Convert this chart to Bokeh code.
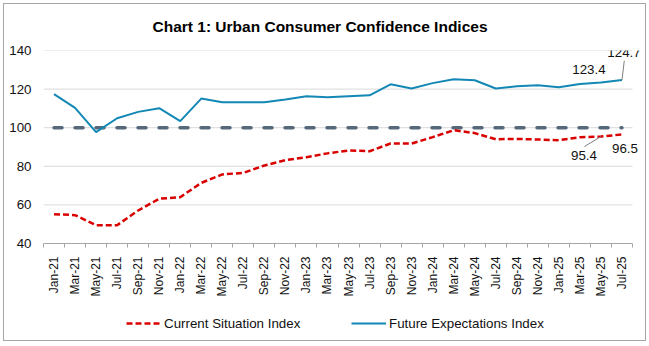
import numpy as np
from bokeh.plotting import figure
from bokeh.layouts import column
from bokeh.models import FixedTicker, Legend, LegendItem, Label, Range1d
from bokeh.embed import file_html
from bokeh.resources import INLINE

# ---------------- data ----------------
months = ["Jan-21", "Mar-21", "May-21", "Jul-21", "Sep-21", "Nov-21",
          "Jan-22", "Mar-22", "May-22", "Jul-22", "Sep-22", "Nov-22",
          "Jan-23", "Mar-23", "May-23", "Jul-23", "Sep-23", "Nov-23",
          "Jan-24", "Mar-24", "May-24", "Jul-24", "Sep-24", "Nov-24",
          "Jan-25", "Mar-25", "May-25", "Jul-25"]
current_situation = [55.2, 54.7, 49.5, 49.5, 57.1, 63.2, 64.0, 71.4, 75.8, 76.6,
                     80.4, 83.2, 84.7, 86.7, 88.2, 87.8, 91.8, 91.8, 95.1, 98.7,
                     97.2, 94.0, 94.2, 93.9, 93.5, 95.1, 95.4, 96.5]
future_expectations = [117.4, 110.3, 97.7, 104.9, 108.2, 110.1, 103.4, 115.1, 113.2, 113.2,
                       113.2, 114.6, 116.3, 115.8, 116.3, 116.8, 122.5, 120.3, 123.1, 125.1,
                       124.6, 120.3, 121.5, 122.0, 121.0, 122.7, 123.4, 124.7]
neutral_level = 100
y_ticks = [40, 60, 80, 100, 120, 140]
title_text = "Chart 1: Urban Consumer Confidence Indices"
series_names = ["Current Situation Index", "Future Expectations Index"]

# ---------------- style ----------------
FONT = "Liberation Sans"
BLUE = "#1388b5"
RED = "#d90000"
NEUTRAL = "#56697a"
TXT = "#111111"
GRID = "#d9d9d9"
AXIS = "#a6a6a6"
PX_X = 589 / 28.0   # pixels per category
PX_Y = 193 / 100.0  # pixels per index point
X_PAD = 9 / PX_X    # room on the right for the end labels
RED_STYLE = dict(line_color=RED, line_width=2.5, line_dash="6 3")
BLUE_STYLE = dict(line_color=BLUE, line_width=2)

n = len(months)
x = list(range(n))
x_lo, x_hi = -0.5, n - 0.5

p = figure(width=641, height=296, output_backend="svg", toolbar_location=None,
           x_range=Range1d(x_lo, x_hi + X_PAD), y_range=Range1d(y_ticks[0], y_ticks[-1]),
           min_border_left=39, min_border_right=4, min_border_top=46,
           min_border_bottom=57, title=title_text)
p.outline_line_color = None
p.background_fill_color = "white"
p.border_fill_color = "white"

p.title.text_font = FONT
p.title.text_font_size = "15.5px"
p.title.text_font_style = "bold"
p.title.text_color = "#000000"
p.title.align = "left"
p.title.offset = 109
p.title.vertical_align = "top"
p.title.standoff = 27

# horizontal gridlines (only across the category area)
p.segment(x0=[x_lo] * len(y_ticks), y0=y_ticks, x1=[x_hi] * len(y_ticks), y1=y_ticks,
          line_color=GRID, line_width=1)

# reference (neutral) line
p.line(x, [neutral_level] * n, line_color=NEUTRAL, line_width=3.5,
       line_dash="8 13", line_cap="round")
p.line(x, current_situation, **RED_STYLE)
p.line(x, future_expectations, **BLUE_STYLE)

# axes
p.xaxis.ticker = FixedTicker(ticks=x, minor_ticks=[i - 0.5 for i in range(n + 1)])
p.xaxis.bounds = (x_lo, x_hi)
p.xaxis.major_label_overrides = {i: m for i, m in enumerate(months)}
p.xaxis.major_label_orientation = np.pi / 2
p.xaxis.major_tick_line_color = None
p.xaxis.major_tick_out = 0
p.xaxis.major_tick_in = 0
p.xaxis.minor_tick_out = 4
p.xaxis.minor_tick_in = 0
p.xaxis.minor_tick_line_color = AXIS
p.xaxis.axis_line_color = AXIS
p.xaxis.major_label_standoff = 9
p.xaxis.major_label_text_font = FONT
p.xaxis.major_label_text_font_size = "12px"
p.xaxis.major_label_text_color = TXT
p.xgrid.visible = False
p.ygrid.visible = False

p.yaxis.ticker = FixedTicker(ticks=y_ticks)
p.yaxis.axis_line_color = None
p.yaxis.major_tick_line_color = None
p.yaxis.minor_tick_line_color = None
p.yaxis.major_tick_out = 0
p.yaxis.major_label_standoff = 12
p.yaxis.major_label_text_font = FONT
p.yaxis.major_label_text_font_size = "13.33px"
p.yaxis.major_label_text_color = TXT

# data labels
labels = [
    (future_expectations, 26, -12, 13),
    (future_expectations, 27, 2, 28),
    (current_situation, 26, -17, -19),
    (current_situation, 27, 3, -14),
]
for series, i, dx, dy in labels:
    p.add_layout(Label(x=x[i], y=series[i], text=f"{series[i]:.1f}",
                       x_offset=dx, y_offset=dy, text_align="center",
                       text_baseline="middle", text_font=FONT,
                       text_font_size="13.33px", text_color=TXT))

# leader lines
leaders = [
    (future_expectations, 27, 2.3, 19.3),
    (current_situation, 26, -16.6, -10),
]
p.segment(x0=[x[i] for _, i, _, _ in leaders],
          y0=[s[i] for s, i, _, _ in leaders],
          x1=[x[i] + dx / PX_X for _, i, dx, _ in leaders],
          y1=[s[i] + dy / PX_Y for s, i, _, dy in leaders],
          line_color="#808080", line_width=1)

# ---------------- legend strip ----------------
lf = figure(width=641, height=40, output_backend="svg", toolbar_location=None,
            x_range=Range1d(-1000, -999), y_range=Range1d(-1000, -999),
            min_border=0, min_border_left=0, min_border_right=0,
            min_border_top=0, min_border_bottom=0)
lf.axis.visible = False
lf.grid.visible = False
lf.outline_line_color = None
lf.background_fill_color = "white"
lf.border_fill_color = "white"
l_cs = lf.line(x, current_situation, **RED_STYLE)
l_fe = lf.line(x, future_expectations, **BLUE_STYLE)
legend = Legend(items=[LegendItem(label=series_names[0], renderers=[l_cs]),
                       LegendItem(label=series_names[1], renderers=[l_fe])],
                location=(83, 7), orientation="horizontal", padding=0, margin=0,
                spacing=33, glyph_width=35, glyph_height=20, label_height=20,
                label_width=154, label_standoff=3, label_text_font=FONT,
                label_text_font_size="13.33px", label_text_color=TXT,
                border_line_alpha=0, background_fill_alpha=0)
lf.add_layout(legend)

layout = column(p, lf, spacing=0, margin=(3, 0, 0, 3),
                styles={"border": "1px solid #a6a6a6", "background": "white"})

open("out.html", "w").write(file_html(layout, INLINE, title="Urban Consumer Confidence Indices"))
